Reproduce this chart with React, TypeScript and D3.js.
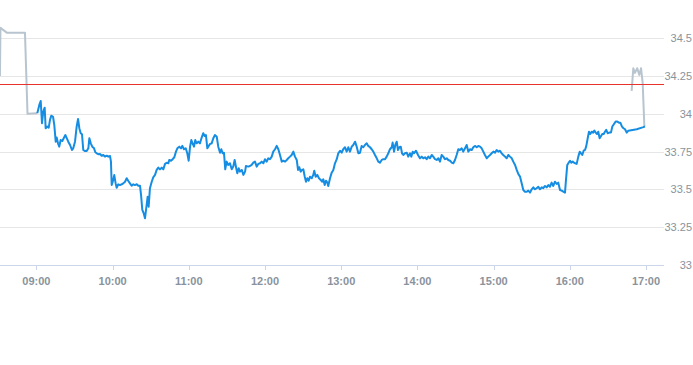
import React from "react";
import * as d3 from "d3";

// minutes after 09:00
const preTimes = [-28.7, -28.3, -23.1, -9.0, -7.0, 0.5];
const preValues = [34.251, 34.569, 34.536, 34.536, 34.0, 34.004];

const sessionTimes = [
  0.7, 2.3, 3.4, 4.4, 5.4, 6.5, 7.3, 8.6, 9.7, 10.7, 11.7, 13.1, 14.1, 15.2, 16.0, 17.0, 18.0, 19.1, 20.4, 21.5,
  22.8, 23.9, 25.1, 26.5, 28.0, 29.0, 30.4, 31.7, 32.8, 33.8, 34.9, 35.9, 36.9, 38.3, 39.6, 40.9, 41.7, 42.8, 44.0, 45.4,
  46.4, 47.5, 48.7, 50.1, 51.4, 52.7, 54.0, 55.4, 56.6, 58.0, 58.7, 59.3, 60.5, 61.3, 62.4, 63.2, 64.5, 65.8, 67.2, 68.4,
  69.8, 71.1, 72.4, 73.7, 75.0, 76.3, 77.6, 79.0, 80.2, 81.6, 82.4, 83.4, 84.5, 85.5, 86.8, 87.6, 88.4, 89.4, 90.8, 92.0,
  93.4, 94.7, 96.0, 97.3, 98.7, 99.9, 101.3, 102.6, 103.9, 104.6, 106.0, 107.3, 108.6, 109.9, 111.0, 112.5, 113.9, 114.9, 116.2, 117.6,
  118.8, 119.9, 121.0, 122.0, 123.1, 124.1, 125.1, 126.2, 127.5, 128.8, 130.2, 131.4, 132.5, 133.5, 134.6, 135.7, 136.7, 138.0, 139.3, 140.6,
  142.0, 143.2, 144.6, 145.6, 146.7, 147.7, 148.7, 149.8, 151.1, 152.4, 153.8, 155.0, 156.1, 157.2, 158.2, 159.3, 160.3, 161.7, 163.0, 164.3,
  165.0, 166.9, 168.2, 169.5, 170.8, 172.1, 173.5, 174.7, 176.1, 177.4, 178.7, 180.0, 181.3, 182.6, 183.9, 185.3, 186.5, 187.9, 189.2, 190.5,
  191.8, 193.2, 194.4, 195.8, 197.1, 198.3, 199.7, 201.0, 202.3, 203.6, 205.0, 206.0, 207.0, 208.1, 209.1, 210.2, 211.3, 212.3, 213.3, 214.4,
  215.4, 216.8, 218.0, 218.8, 219.9, 221.2, 222.5, 223.9, 224.9, 225.9, 227.0, 228.0, 229.1, 229.8, 231.2, 232.5, 233.8, 235.1, 236.5, 237.7,
  239.1, 240.4, 241.6, 243.0, 244.3, 245.6, 246.9, 248.3, 249.5, 250.9, 252.2, 253.5, 254.8, 256.1, 257.4, 258.7, 260.1, 261.3, 262.7, 264.0,
  265.3, 266.6, 268.0, 269.2, 270.5, 271.9, 273.2, 274.5, 275.8, 277.1, 278.4, 279.8, 280.5, 281.6, 282.6, 283.7, 284.7, 285.8, 286.9, 287.9,
  288.9, 290.2, 291.6, 292.8, 294.2, 295.2, 296.3, 297.3, 298.9, 300.5, 302.0, 303.4, 304.6, 306.0, 307.3, 308.6, 309.9, 311.3, 312.5, 313.9,
  315.2, 316.5, 317.8, 319.1, 320.4, 321.7, 323.1, 324.3, 325.7, 327.0, 328.3, 329.6, 330.9, 332.2, 333.5, 334.9, 336.1, 337.5, 338.8, 340.1,
  341.4, 342.8, 344.0, 345.3, 346.7, 348.0, 349.3, 350.6, 351.9, 353.2, 354.6, 355.8, 357.2, 358.5, 359.8, 361.1, 362.4, 363.7, 365.0, 366.4,
  367.6, 369.0, 370.3, 371.6, 372.9, 374.3, 375.5, 376.9, 378.2, 379.5, 380.8, 382.1, 383.4, 384.7, 386.1, 387.3, 388.7, 390.0, 391.3, 392.6,
  393.9, 395.2, 396.5, 397.9, 399.1, 400.5, 401.8, 403.1, 404.4, 405.7, 407.0, 408.3, 409.7, 410.9, 412.3, 413.6, 414.9, 416.2, 417.0, 418.0,
  419.1, 420.2, 421.2, 422.3, 423.3, 424.3, 425.4, 426.7, 427.8, 428.8, 429.8, 430.9, 432.0, 433.0, 434.1, 435.1, 436.1, 437.2, 438.3, 439.3,
  440.4, 441.4, 442.4, 443.5, 444.6, 445.6, 446.7, 447.7, 448.7, 449.8, 451.1, 452.4, 453.5, 454.8, 456.1, 457.4, 458.7, 459.8, 461.1, 462.3,
  463.5, 464.8, 466.1, 472.7, 477.9, 479.2,
];
const sessionValues = [
  34.004, 34.059, 34.085, 33.938, 34.015, 34.041, 33.905, 33.916, 33.909, 33.96, 33.988, 33.981, 33.926, 33.816, 33.843, 33.805, 33.783, 33.827, 33.821, 33.839,
  33.86, 33.839, 33.816, 33.794, 33.761, 33.772, 33.816, 33.916, 33.966, 33.905, 33.872, 33.865, 33.761, 33.754, 33.754, 33.772, 33.839, 33.805, 33.783, 33.772,
  33.746, 33.739, 33.733, 33.735, 33.723, 33.728, 33.717, 33.723, 33.717, 33.721, 33.684, 33.529, 33.562, 33.595, 33.54, 33.511, 33.534, 33.529, 33.534, 33.54,
  33.551, 33.574, 33.556, 33.54, 33.524, 33.534, 33.529, 33.534, 33.524, 33.524, 33.463, 33.364, 33.342, 33.309, 33.397, 33.452, 33.386, 33.508, 33.551, 33.58,
  33.596, 33.629, 33.644, 33.633, 33.644, 33.633, 33.669, 33.677, 33.673, 33.695, 33.69, 33.7, 33.713, 33.75, 33.772, 33.783, 33.772, 33.788, 33.766, 33.772,
  33.739, 33.69, 33.783, 33.827, 33.801, 33.783, 33.827, 33.805, 33.816, 33.805, 33.845, 33.872, 33.854, 33.86, 33.772, 33.788, 33.801, 33.805, 33.839, 33.86,
  33.849, 33.783, 33.743, 33.766, 33.739, 33.743, 33.633, 33.684, 33.662, 33.673, 33.633, 33.651, 33.695, 33.647, 33.607, 33.64, 33.618, 33.629, 33.596, 33.618,
  33.655, 33.651, 33.655, 33.662, 33.677, 33.684, 33.651, 33.669, 33.673, 33.684, 33.673, 33.7, 33.684, 33.706, 33.7, 33.717, 33.75, 33.766, 33.788, 33.766,
  33.728, 33.684, 33.69, 33.684, 33.695, 33.706, 33.717, 33.728, 33.75, 33.717, 33.695, 33.629, 33.647, 33.618, 33.629, 33.633, 33.584, 33.551, 33.574, 33.558,
  33.584, 33.574, 33.596, 33.624, 33.584, 33.596, 33.574, 33.563, 33.551, 33.567, 33.529, 33.558, 33.545, 33.523, 33.574, 33.611, 33.629, 33.673, 33.7, 33.739,
  33.756, 33.743, 33.766, 33.779, 33.75, 33.779, 33.75, 33.783, 33.794, 33.816, 33.783, 33.739, 33.743, 33.788, 33.779, 33.794, 33.805, 33.788, 33.779, 33.766,
  33.75, 33.728, 33.706, 33.684, 33.677, 33.695, 33.7, 33.7, 33.717, 33.739, 33.766, 33.779, 33.81, 33.75, 33.794, 33.816, 33.761, 33.779, 33.783, 33.739,
  33.728, 33.739, 33.743, 33.717, 33.739, 33.717, 33.75, 33.739, 33.756, 33.728, 33.706, 33.717, 33.706, 33.713, 33.7, 33.717, 33.706, 33.728, 33.717, 33.7,
  33.695, 33.706, 33.684, 33.728, 33.717, 33.7, 33.706, 33.695, 33.69, 33.677, 33.673, 33.695, 33.728, 33.766, 33.761, 33.772, 33.75, 33.772, 33.794, 33.75,
  33.766, 33.761, 33.779, 33.788, 33.779, 33.788, 33.783, 33.772, 33.75, 33.728, 33.706, 33.717, 33.728, 33.739, 33.75, 33.743, 33.761, 33.75, 33.756, 33.739,
  33.728, 33.717, 33.706, 33.728, 33.717, 33.706, 33.684, 33.662, 33.629, 33.602, 33.585, 33.541, 33.496, 33.485, 33.485, 33.492, 33.479, 33.501, 33.514, 33.501,
  33.508, 33.518, 33.501, 33.514, 33.508, 33.523, 33.514, 33.529, 33.518, 33.545, 33.523, 33.551, 33.536, 33.545, 33.496, 33.492, 33.485, 33.479, 33.563, 33.662,
  33.677, 33.69, 33.677, 33.684, 33.677, 33.673, 33.669, 33.717, 33.75, 33.739, 33.728, 33.756, 33.761, 33.788, 33.839, 33.882, 33.867, 33.882, 33.876, 33.889,
  33.876, 33.867, 33.882, 33.839, 33.854, 33.867, 33.867, 33.882, 33.894, 33.872, 33.876, 33.876, 33.916, 33.933, 33.949, 33.949, 33.942, 33.942, 33.916, 33.905,
  33.898, 33.876, 33.889, 33.898, 33.912, 33.916,
];

const postTimes = [468.7, 470.0, 471.3, 473.1, 474.7, 476.1, 477.4, 478.7, 479.2];
const postValues = [34.152, 34.302, 34.271, 34.302, 34.258, 34.302, 34.203, 33.92, 33.916];

const referenceValue = 34.2;
const yTicks = [33, 33.25, 33.5, 33.75, 34, 34.25, 34.5];
const xTicks = [0, 60, 120, 180, 240, 300, 360, 420, 480];
const xTickLabels = ["09:00", "10:00", "11:00", "12:00", "13:00", "14:00", "15:00", "16:00", "17:00"];

export default function App() {
  const W = 693;
  const H = 365;
  const plotRight = 664;
  const plotBottom = 265;

  const x = d3.scaleLinear().domain([0, 480]).range([36.4, 646]);
  const y = d3.scaleLinear().domain([33, 34.5]).range([plotBottom, 38.3]);
  const crisp = (v: number) => Math.round(v) + 0.5;

  const line = d3
    .line<[number, number]>()
    .x((d) => x(d[0]))
    .y((d) => y(d[1]));

  const pre: [number, number][] = preTimes.map((t, i) => [t, preValues[i]]);
  const session: [number, number][] = sessionTimes.map((t, i) => [t, sessionValues[i]]);
  const post: [number, number][] = postTimes.map((t, i) => [t, postValues[i]]);

  const labelColor = "#8a939c";
  const font = "'Liberation Sans', Arial, sans-serif";

  return (
    <svg
      width={W}
      height={H}
      style={{ position: "absolute", left: 0, top: 0, background: "#fff" }}
      fontFamily={font}
    >
      <defs>
        <clipPath id="plot">
          <rect x={0} y={0} width={plotRight} height={plotBottom} />
        </clipPath>
      </defs>
      {yTicks
        .filter((v) => v !== 33)
        .map((v) => (
          <line key={v} x1={0} x2={plotRight} y1={crisp(y(v))} y2={crisp(y(v))} stroke="#e6e6e6" strokeWidth={1} />
        ))}
      <line x1={0} x2={plotRight} y1={plotBottom + 0.5} y2={plotBottom + 0.5} stroke="#ccd6eb" strokeWidth={1} />
      {xTicks.map((t, i) => (
        <g key={t}>
          <line x1={crisp(x(t))} x2={crisp(x(t))} y1={plotBottom} y2={plotBottom + 5} stroke="#ccd6eb" strokeWidth={1} />
          <text x={x(t)} y={285} textAnchor="middle" fontSize={11} fill={labelColor} fontWeight="bold">
            {xTickLabels[i]}
          </text>
        </g>
      ))}
      {yTicks.map((v) => (
        <text key={v} x={692} y={y(v) + 4} textAnchor="end" fontSize={11} fill={labelColor}>
          {String(v)}
        </text>
      ))}
      <g clipPath="url(#plot)">
        <path d={line(pre) || ""} fill="none" stroke="#b8c5cf" strokeWidth={2} strokeLinejoin="round" />
        <path d={line(post) || ""} fill="none" stroke="#b8c5cf" strokeWidth={2} strokeLinejoin="round" />
        <line
          x1={0}
          x2={plotRight}
          y1={crisp(y(referenceValue))}
          y2={crisp(y(referenceValue))}
          stroke="#e8322c"
          strokeWidth={1}
        />
        <path d={line(session) || ""} fill="none" stroke="#158de2" strokeWidth={2} strokeLinejoin="round" />
      </g>
    </svg>
  );
}
